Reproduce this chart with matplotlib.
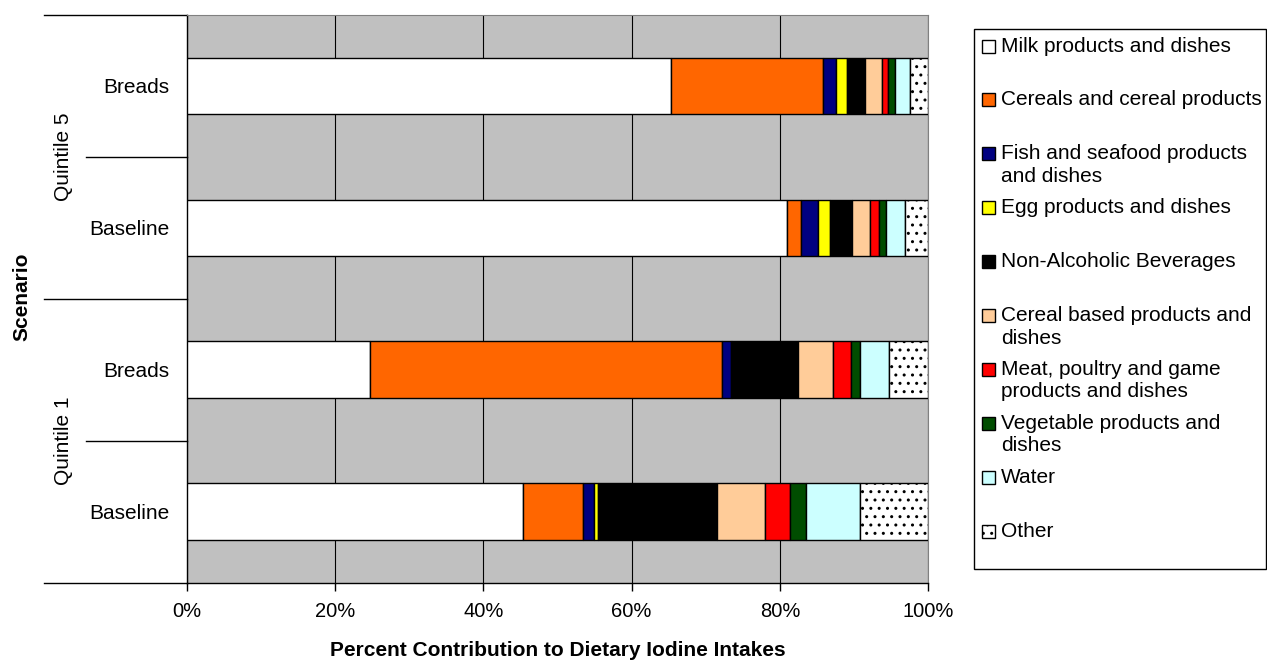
import matplotlib.pyplot as plt
import matplotlib.patches as mpatches
import matplotlib.transforms as mtransforms
import numpy as np

plt.rcParams['font.family'] = ['Liberation Sans', 'DejaVu Sans']
plt.rcParams['hatch.linewidth'] = 1.0

# scenarios, bottom to top
scenarios = ['Baseline', 'Breads', 'Baseline', 'Breads']
groups = ['Quintile 1', 'Quintile 5']

# percent contribution per food group, same order as scenarios
milk = [45.4, 24.7, 80.9, 65.3]
cereals = [8.0, 47.5, 2.0, 20.5]
fish = [1.5, 1.2, 2.2, 1.8]
egg = [0.6, 0.2, 1.7, 1.4]
beverages = [16.0, 8.8, 2.9, 2.4]
cereal_based = [6.5, 4.8, 2.5, 2.3]
meat = [3.3, 2.4, 1.1, 0.9]
vegetable = [2.2, 1.2, 1.0, 0.9]
water = [7.3, 3.9, 2.6, 2.0]
other = [9.2, 5.3, 3.1, 2.5]

series = [milk, cereals, fish, egg, beverages, cereal_based, meat, vegetable, water, other]
labels = [['Milk products and dishes'],
          ['Cereals and cereal products'],
          ['Fish and seafood products', 'and dishes'],
          ['Egg products and dishes'],
          ['Non-Alcoholic Beverages'],
          ['Cereal based products and', 'dishes'],
          ['Meat, poultry and game', 'products and dishes'],
          ['Vegetable products and', 'dishes'],
          ['Water'],
          ['Other']]
colors = ['#FFFFFF', '#FF6600', '#000080', '#FFFF00', '#000000',
          '#FFCC99', '#FF0000', '#004D00', '#CCFFFF', '#FFFFFF']
hatches = [None] * 9 + ['..']

W, H = 1267, 662
fig = plt.figure(figsize=(W / 100, H / 100), dpi=100)
ax = fig.add_axes([186.5 / W, 1 - 582.7 / H, 741.8 / W, 567.7 / H])
ax.set_facecolor('#C0C0C0')

y = np.arange(len(scenarios))
left = np.zeros(len(scenarios))
for vals, col, hat in zip(series, colors, hatches):
    ax.barh(y, vals, left=left, height=0.4, color=col, edgecolor='black',
            linewidth=1.0, hatch=hat, zorder=3)
    left += np.array(vals)

ax.set_xlim(0, 100)
ax.set_ylim(-0.5, 3.5)
ax.set_xticks(np.arange(0, 101, 20))
ax.set_xticklabels(['%d%%' % v for v in range(0, 101, 20)], fontsize=14.5)
ax.set_yticks(y)
ax.set_yticklabels(scenarios, fontsize=15)
ax.tick_params(axis='y', length=0, pad=12)
ax.tick_params(axis='x', length=6, width=1, direction='out', pad=8)
ax.xaxis.grid(True, color='black', linewidth=0.8, zorder=1)
ax.set_axisbelow(True)

for s in ['top', 'right']:
    ax.spines[s].set_color('#808080')
    ax.spines[s].set_linewidth(0.8)
ax.spines['left'].set_linewidth(1.0)
ax.spines['bottom'].set_linewidth(1.0)

ax.set_xlabel('Percent Contribution to Dietary Iodine Intakes', fontsize=15,
              fontweight='bold', labelpad=14)

# multi-level category separators
trans = mtransforms.blended_transform_factory(ax.transAxes, ax.transData)
for yy in [-0.5, 1.5, 3.5]:
    ax.plot([-0.192, 0], [yy, yy], color='black', linewidth=1.0,
            transform=trans, clip_on=False)
for yy in [0.5, 2.5]:
    ax.plot([-0.136, 0], [yy, yy], color='black', linewidth=1.0,
            transform=trans, clip_on=False)
for g, yy in zip(groups, [0.5, 2.5]):
    ax.text(-0.166, yy, g, transform=trans, rotation=90, ha='center',
            va='center', fontsize=15)

fig.text(22 / W, 1 - 297 / H, 'Scenario', rotation=90, ha='center', va='center',
         fontsize=15, fontweight='bold')

# legend box
fig.patches.append(mpatches.Rectangle((973.7 / W, 1 - 569 / H), (1266 - 973.7) / W,
                                      (569 - 29) / H, transform=fig.transFigure,
                                      facecolor='white', edgecolor='black',
                                      linewidth=1.0))
for i, (lab, col, hat) in enumerate(zip(labels, colors, hatches)):
    yc = 46 + 53.9 * i
    fig.patches.append(mpatches.Rectangle((982 / W, 1 - (yc + 6.5) / H), 13 / W, 13 / H,
                                          transform=fig.transFigure, facecolor=col,
                                          edgecolor='black', linewidth=1.0, hatch=hat))
    for j, line in enumerate(lab):
        fig.text(1001 / W, 1 - (yc + 22.5 * j) / H, line, ha='left', va='center',
                 fontsize=15)

fig.savefig('out.png', dpi=100)
